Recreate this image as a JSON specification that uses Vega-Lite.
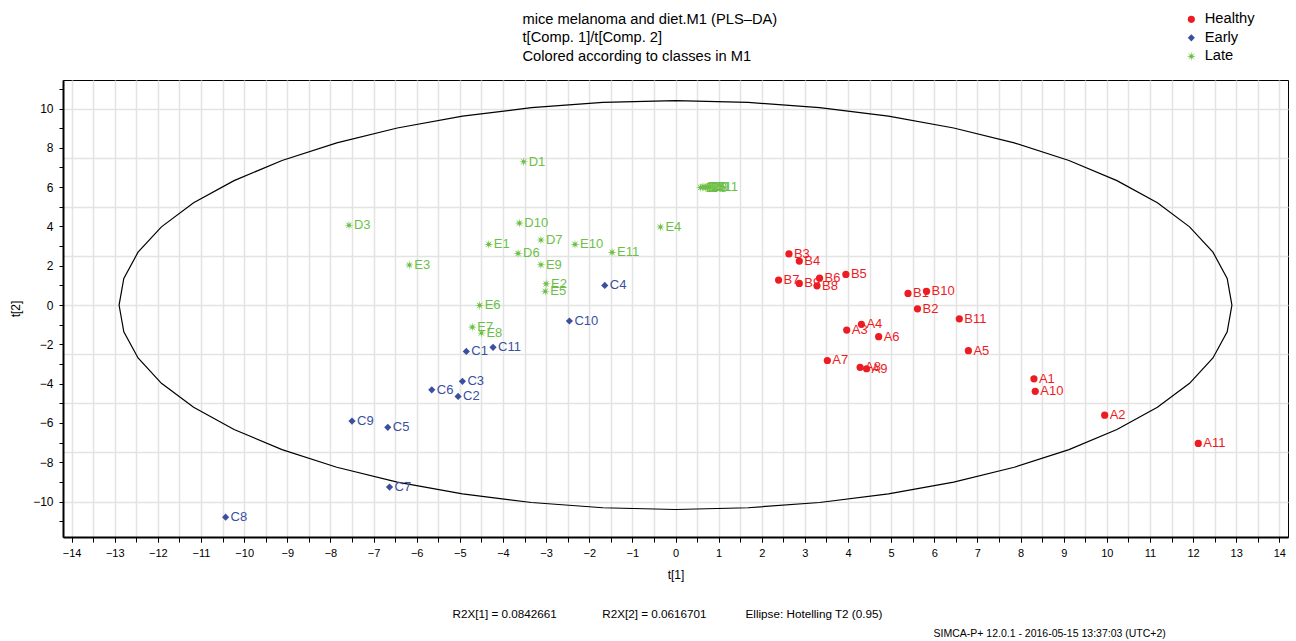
{
  "$schema": "https://vega.github.io/schema/vega-lite/v6.json",
  "width": 1225,
  "height": 457,
  "autosize": {"type": "none"},
  "padding": {"left": 63, "top": 80, "right": 8, "bottom": 104},
  "background": "white",
  "config": {
    "font": "Liberation Sans",
    "view": {"stroke": "black", "strokeWidth": 1},
    "axis": {"labelColor": "black", "titleColor": "black", "titleFontWeight": "normal", "labelFont": "Liberation Sans", "titleFont": "Liberation Sans"}
  },
  "datasets": {
    "scores": [
      {"id": "A1", "class": "Healthy", "t1": 8.31, "t2": -3.75},
      {"id": "A2", "class": "Healthy", "t1": 9.95, "t2": -5.60},
      {"id": "A3", "class": "Healthy", "t1": 3.97, "t2": -1.27},
      {"id": "A4", "class": "Healthy", "t1": 4.31, "t2": -0.98},
      {"id": "A5", "class": "Healthy", "t1": 6.79, "t2": -2.32},
      {"id": "A6", "class": "Healthy", "t1": 4.71, "t2": -1.61},
      {"id": "A7", "class": "Healthy", "t1": 3.52, "t2": -2.82},
      {"id": "A8", "class": "Healthy", "t1": 4.28, "t2": -3.17},
      {"id": "A9", "class": "Healthy", "t1": 4.43, "t2": -3.24},
      {"id": "A10", "class": "Healthy", "t1": 8.34, "t2": -4.39},
      {"id": "A11", "class": "Healthy", "t1": 12.12, "t2": -7.04},
      {"id": "B1", "class": "Healthy", "t1": 5.39, "t2": 0.59},
      {"id": "B2", "class": "Healthy", "t1": 5.61, "t2": -0.19},
      {"id": "B3", "class": "Healthy", "t1": 2.63, "t2": 2.60},
      {"id": "B4", "class": "Healthy", "t1": 2.87, "t2": 2.24},
      {"id": "B5", "class": "Healthy", "t1": 3.95, "t2": 1.56},
      {"id": "B6", "class": "Healthy", "t1": 3.34, "t2": 1.37},
      {"id": "B7", "class": "Healthy", "t1": 2.39, "t2": 1.27},
      {"id": "B8", "class": "Healthy", "t1": 3.28, "t2": 0.98},
      {"id": "B9", "class": "Healthy", "t1": 2.87, "t2": 1.10},
      {"id": "B10", "class": "Healthy", "t1": 5.82, "t2": 0.70},
      {"id": "B11", "class": "Healthy", "t1": 6.58, "t2": -0.70},
      {"id": "C1", "class": "Early", "t1": -4.85, "t2": -2.36},
      {"id": "C2", "class": "Early", "t1": -5.04, "t2": -4.65},
      {"id": "C3", "class": "Early", "t1": -4.94, "t2": -3.88},
      {"id": "C4", "class": "Early", "t1": -1.64, "t2": 1.00},
      {"id": "C5", "class": "Early", "t1": -6.67, "t2": -6.22},
      {"id": "C6", "class": "Early", "t1": -5.65, "t2": -4.31},
      {"id": "C7", "class": "Early", "t1": -6.63, "t2": -9.26},
      {"id": "C8", "class": "Early", "t1": -10.43, "t2": -10.79},
      {"id": "C9", "class": "Early", "t1": -7.50, "t2": -5.90},
      {"id": "C10", "class": "Early", "t1": -2.46, "t2": -0.81},
      {"id": "C11", "class": "Early", "t1": -4.23, "t2": -2.15},
      {"id": "D1", "class": "Late", "t1": -3.52, "t2": 7.29},
      {"id": "D2", "class": "Late", "t1": 0.62, "t2": 6.00},
      {"id": "D3", "class": "Late", "t1": -7.57, "t2": 4.06},
      {"id": "D4", "class": "Late", "t1": 0.58, "t2": 5.98},
      {"id": "D5", "class": "Late", "t1": 0.66, "t2": 6.02},
      {"id": "D6", "class": "Late", "t1": -3.65, "t2": 2.63},
      {"id": "D7", "class": "Late", "t1": -3.12, "t2": 3.31},
      {"id": "D8", "class": "Late", "t1": 0.70, "t2": 5.97},
      {"id": "D9", "class": "Late", "t1": 0.74, "t2": 6.01},
      {"id": "D10", "class": "Late", "t1": -3.62, "t2": 4.17},
      {"id": "D11", "class": "Late", "t1": 0.80, "t2": 6.00},
      {"id": "E1", "class": "Late", "t1": -4.33, "t2": 3.09},
      {"id": "E2", "class": "Late", "t1": -3.00, "t2": 1.08},
      {"id": "E3", "class": "Late", "t1": -6.17, "t2": 2.04},
      {"id": "E4", "class": "Late", "t1": -0.35, "t2": 3.97},
      {"id": "E5", "class": "Late", "t1": -3.02, "t2": 0.70},
      {"id": "E6", "class": "Late", "t1": -4.54, "t2": -0.02},
      {"id": "E7", "class": "Late", "t1": -4.71, "t2": -1.12},
      {"id": "E8", "class": "Late", "t1": -4.50, "t2": -1.42},
      {"id": "E9", "class": "Late", "t1": -3.12, "t2": 2.05},
      {"id": "E10", "class": "Late", "t1": -2.33, "t2": 3.09},
      {"id": "E11", "class": "Late", "t1": -1.47, "t2": 2.68}
    ],
    "ellipse": [
      {"i": 0, "ex": 12.9, "ey": 0},
      {"i": 1, "ex": 12.79, "ey": 1.358},
      {"i": 2, "ex": 12.46, "ey": 2.692},
      {"i": 3, "ex": 11.918, "ey": 3.98},
      {"i": 4, "ex": 11.172, "ey": 5.2},
      {"i": 5, "ex": 10.234, "ey": 6.331},
      {"i": 6, "ex": 9.122, "ey": 7.354},
      {"i": 7, "ex": 7.853, "ey": 8.251},
      {"i": 8, "ex": 6.45, "ey": 9.007},
      {"i": 9, "ex": 4.937, "ey": 9.608},
      {"i": 10, "ex": 3.339, "ey": 10.046},
      {"i": 11, "ex": 1.684, "ey": 10.311},
      {"i": 12, "ex": 0, "ey": 10.4},
      {"i": 13, "ex": -1.684, "ey": 10.311},
      {"i": 14, "ex": -3.339, "ey": 10.046},
      {"i": 15, "ex": -4.937, "ey": 9.608},
      {"i": 16, "ex": -6.45, "ey": 9.007},
      {"i": 17, "ex": -7.853, "ey": 8.251},
      {"i": 18, "ex": -9.122, "ey": 7.354},
      {"i": 19, "ex": -10.234, "ey": 6.331},
      {"i": 20, "ex": -11.172, "ey": 5.2},
      {"i": 21, "ex": -11.918, "ey": 3.98},
      {"i": 22, "ex": -12.46, "ey": 2.692},
      {"i": 23, "ex": -12.79, "ey": 1.358},
      {"i": 24, "ex": -12.9, "ey": 0},
      {"i": 25, "ex": -12.79, "ey": -1.358},
      {"i": 26, "ex": -12.46, "ey": -2.692},
      {"i": 27, "ex": -11.918, "ey": -3.98},
      {"i": 28, "ex": -11.172, "ey": -5.2},
      {"i": 29, "ex": -10.234, "ey": -6.331},
      {"i": 30, "ex": -9.122, "ey": -7.354},
      {"i": 31, "ex": -7.853, "ey": -8.251},
      {"i": 32, "ex": -6.45, "ey": -9.007},
      {"i": 33, "ex": -4.937, "ey": -9.608},
      {"i": 34, "ex": -3.339, "ey": -10.046},
      {"i": 35, "ex": -1.684, "ey": -10.311},
      {"i": 36, "ex": 0, "ey": -10.4},
      {"i": 37, "ex": 1.684, "ey": -10.311},
      {"i": 38, "ex": 3.339, "ey": -10.046},
      {"i": 39, "ex": 4.937, "ey": -9.608},
      {"i": 40, "ex": 6.45, "ey": -9.007},
      {"i": 41, "ex": 7.853, "ey": -8.251},
      {"i": 42, "ex": 9.122, "ey": -7.354},
      {"i": 43, "ex": 10.234, "ey": -6.331},
      {"i": 44, "ex": 11.172, "ey": -5.2},
      {"i": 45, "ex": 11.918, "ey": -3.98},
      {"i": 46, "ex": 12.46, "ey": -2.692},
      {"i": 47, "ex": 12.79, "ey": -1.358},
      {"i": 48, "ex": 12.9, "ey": 0}
    ]
  },
  "layer": [
    {
      "data": {"name": "ellipse"},
      "mark": {"type": "line", "color": "black", "strokeWidth": 1.2},
      "encoding": {
        "x": {
          "field": "ex", "type": "quantitative",
          "scale": {"domain": [-14.2, 14.2], "nice": false, "zero": false},
          "axis": {
            "orient": "bottom",
            "values": [-14, -13.5, -13, -12.5, -12, -11.5, -11, -10.5, -10, -9.5, -9, -8.5, -8, -7.5, -7, -6.5, -6, -5.5, -5, -4.5, -4, -3.5, -3, -2.5, -2, -1.5, -1, -0.5, 0, 0.5, 1, 1.5, 2, 2.5, 3, 3.5, 4, 4.5, 5, 5.5, 6, 6.5, 7, 7.5, 8, 8.5, 9, 9.5, 10, 10.5, 11, 11.5, 12, 12.5, 13, 13.5, 14],
            "grid": true, "gridColor": "#e3e3e3", "gridWidth": 1.5,
            "labels": false, "ticks": true, "tickSize": 5, "tickColor": "black", "tickWidth": 1,
            "domain": false,
            "title": "R2X[1] = 0.0842661\u00a0\u00a0\u00a0\u00a0\u00a0\u00a0\u00a0\u00a0\u00a0\u00a0\u00a0\u00a0\u00a0\u00a0R2X[2] = 0.0616701\u00a0\u00a0\u00a0\u00a0\u00a0\u00a0\u00a0\u00a0\u00a0\u00a0\u00a0\u00a0Ellipse: Hotelling T2 (0.95)",
            "titleX": 389, "titleY": 80, "titleAlign": "left", "titleBaseline": "alphabetic",
            "titleFontSize": 11.7, "titleFontWeight": "normal"
          }
        },
        "y": {
          "field": "ey", "type": "quantitative",
          "scale": {"domain": [-11.8, 11.45], "nice": false, "zero": false},
          "axis": {
            "orient": "left",
            "values": [-10, -7.5, -5, -2.5, 0, 2.5, 5, 7.5, 10],
            "grid": true, "gridColor": "#e3e3e3", "gridWidth": 1.5,
            "labels": false, "ticks": false, "domain": false, "title": null
          }
        },
        "order": {"field": "i", "type": "quantitative"}
      }
    },
    {
      "mark": {"type": "rule", "color": "black", "strokeWidth": 1.2},
      "encoding": {
        "x": {
          "datum": 0, "type": "quantitative",
          "axis": {
            "orient": "bottom",
            "labels": false, "ticks": false, "domain": false, "grid": false,
            "title": "SIMCA-P+ 12.0.1 - 2016-05-15 13:37:03 (UTC+2)",
            "titleX": 870, "titleY": 99, "titleAlign": "left", "titleBaseline": "alphabetic",
            "titleFontSize": 10.5, "titleFontWeight": "normal"
          }
        }
      }
    },
    {
      "mark": {"type": "rule", "color": "black", "strokeWidth": 1.2},
      "encoding": {
        "y": {"datum": 0, "type": "quantitative", "axis": null}
      }
    },
    {
      "data": {"name": "scores"},
      "mark": {"type": "point", "filled": true, "opacity": 1, "size": 52},
      "encoding": {
        "x": {
          "field": "t1", "type": "quantitative",
          "axis": {
            "orient": "bottom",
            "values": [-14, -13, -12, -11, -10, -9, -8, -7, -6, -5, -4, -3, -2, -1, 0, 1, 2, 3, 4, 5, 6, 7, 8, 9, 10, 11, 12, 13, 14],
            "grid": false, "domainColor": "black", "domainWidth": 2,
            "tickColor": "black", "tickSize": 5, "labelPadding": 5, "labelFontSize": 11,
            "title": "t[1]", "titleFontSize": 12, "titlePadding": 11
          }
        },
        "y": {
          "field": "t2", "type": "quantitative",
          "axis": {
            "orient": "left",
            "values": [-11, -10, -9, -8, -7, -6, -5, -4, -3, -2, -1, 0, 1, 2, 3, 4, 5, 6, 7, 8, 9, 10, 11],
            "labelExpr": "datum.value % 2 === 0 ? datum.label : ''",
            "grid": false, "domainColor": "black", "domainWidth": 2,
            "tickColor": "black", "tickSize": 4, "labelPadding": 6, "labelFontSize": 12,
            "title": "t[2]", "titleFontSize": 12, "titlePadding": 10
          }
        },
        "color": {
          "field": "class", "type": "nominal",
          "scale": {"domain": ["Healthy", "Early", "Late"], "range": ["#ED1C24", "#3A4F9F", "#6CBF46"]},
          "legend": {
            "orient": "none", "legendX": 1121, "legendY": -68, "title": null,
            "labelFontSize": 14.7, "labelFont": "Liberation Sans", "labelColor": "black",
            "symbolSize": 50, "rowPadding": 2.5, "labelOffset": 6, "padding": 0
          }
        },
        "shape": {
          "field": "class", "type": "nominal",
          "scale": {"domain": ["Healthy", "Early", "Late"], "range": ["circle", "diamond", "M1.3,0L0.37,0.153L0.919,0.919L0.153,0.37L0,1.3L-0.153,0.37L-0.919,0.919L-0.37,0.153L-1.3,0L-0.37,-0.153L-0.919,-0.919L-0.153,-0.37L0,-1.3L0.153,-0.37L0.919,-0.919L0.37,-0.153Z"]}
        }
      }
    },
    {
      "data": {"name": "scores"},
      "mark": {"type": "text", "align": "left", "baseline": "middle", "dx": 5, "fontSize": 13, "font": "Liberation Sans"},
      "encoding": {
        "x": {
          "field": "t1", "type": "quantitative",
          "axis": {
            "orient": "top",
            "labels": false, "ticks": false, "domain": false, "grid": false,
            "title": ["mice melanoma and diet.M1 (PLS\u2013DA)", "t[Comp. 1]/t[Comp. 2]", "Colored according to classes in M1"],
            "titleX": 459, "titleY": -69, "titleAlign": "left", "titleBaseline": "top",
            "titleFontSize": 14.7, "titleFontWeight": "normal", "titleLineHeight": 18.7
          }
        },
        "y": {"field": "t2", "type": "quantitative", "axis": null},
        "text": {"field": "id"},
        "color": {"field": "class", "type": "nominal"}
      }
    }
  ],
  "resolve": {"axis": {"x": "independent", "y": "independent"}}
}
